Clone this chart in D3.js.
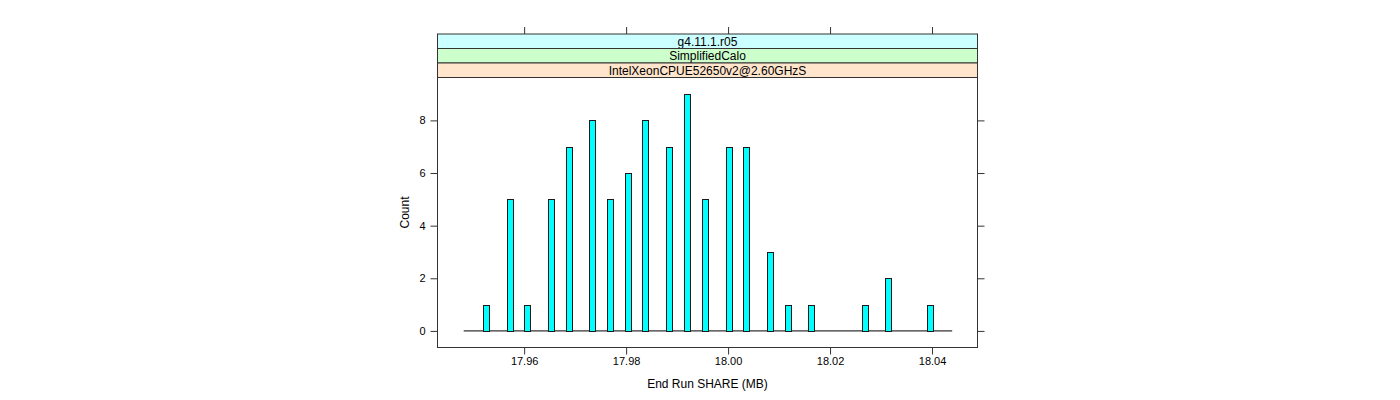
<!DOCTYPE html>
<html>
<head>
<meta charset="utf-8">
<script src="https://cdn.jsdelivr.net/npm/d3@7"></script>
<style>
  html, body { margin: 0; padding: 0; background: #fff; }
  svg { display: block; }
  text { font-family: "Liberation Sans", Arial, Helvetica, sans-serif; fill: #000; }
</style>
</head>
<body>
<svg id="chart" width="1400" height="400"></svg>
<script>
// ---- data ----
const shareValues = [17.9525, 17.9572, 17.9605, 17.9652, 17.9687, 17.9734, 17.9769, 17.9803, 17.9838, 17.9884,
                     17.9919, 17.9954, 18.0001, 18.0036, 18.0082, 18.0117, 18.0163, 18.0268, 18.0314, 18.0396];
const counts      = [1, 5, 1, 5, 7, 8, 5, 6, 8, 7,
                     9, 5, 7, 7, 3, 1, 1, 1, 2, 1];
const xTicks = [17.96, 17.98, 18.00, 18.02, 18.04];
const yTicks = [0, 2, 4, 6, 8];
const stripLabels = ["g4.11.1.r05", "SimplifiedCalo", "IntelXeonCPUE52650v2@2.60GHzS"];
const stripColors = ["#ccffff", "#ccffcc", "#ffe5cc"];
const xLabel = "End Run SHARE (MB)";
const yLabel = "Count";

// ---- layout ----
const panel = { left: 437.5, right: 977.5, top: 77.5, bottom: 347.5 };
const stripH = 14.5;
const svg = d3.select("#chart");

const ext = d3.extent(shareValues);
const span = ext[1] - ext[0];
const x = d3.scaleLinear()
  .domain([ext[0] - span * 0.109, ext[1] + span * 0.107])
  .range([panel.left, panel.right]);
const yMax = d3.max(counts);
const y = d3.scaleLinear()
  .domain([-yMax * 0.07, yMax * 1.07])
  .range([panel.bottom, panel.top]);

const axisColor = "#333";

// strips (top to bottom)
const stripTop = panel.top - stripH * stripLabels.length;
stripLabels.forEach((lab, i) => {
  const yy = stripTop + i * stripH;
  svg.append("rect")
    .attr("x", panel.left).attr("y", yy)
    .attr("width", panel.right - panel.left).attr("height", stripH)
    .attr("fill", stripColors[i]).attr("stroke", axisColor).attr("stroke-width", 1);
  svg.append("text")
    .attr("x", (panel.left + panel.right) / 2).attr("y", yy + stripH / 2 + 4.3)
    .attr("text-anchor", "middle").attr("font-size", "12px").text(lab);
});

// panel border
svg.append("rect")
  .attr("x", panel.left).attr("y", panel.top)
  .attr("width", panel.right - panel.left).attr("height", panel.bottom - panel.top)
  .attr("fill", "none").attr("stroke", axisColor).attr("stroke-width", 1);

// axes
const tickLen = 7;
const bottomAxis = d3.axisBottom(x).tickValues(xTicks).tickFormat(d3.format(".2f"))
  .tickSizeInner(tickLen).tickSizeOuter(0).tickPadding(3);
const gb = svg.append("g").attr("transform", `translate(0,${panel.bottom})`).call(bottomAxis);
const topAxis = d3.axisTop(x).tickValues(xTicks).tickFormat("").tickSizeInner(tickLen).tickSizeOuter(0);
const gt = svg.append("g").attr("transform", `translate(0,${stripTop})`).call(topAxis);
const leftAxis = d3.axisLeft(y).tickValues(yTicks).tickFormat(d3.format("d"))
  .tickSizeInner(tickLen).tickSizeOuter(0).tickPadding(5);
const gl = svg.append("g").attr("transform", `translate(${panel.left},0)`).call(leftAxis);
const rightAxis = d3.axisRight(y).tickValues(yTicks).tickFormat("").tickSizeInner(tickLen).tickSizeOuter(0);
const gr = svg.append("g").attr("transform", `translate(${panel.right},0)`).call(rightAxis);
[gb, gt, gl, gr].forEach(g => {
  g.select(".domain").remove();
  g.selectAll(".tick line").attr("stroke", axisColor);
  g.selectAll(".tick text").attr("font-size", "11px").attr("font-family", "Liberation Sans, Arial, sans-serif").attr("fill", "#000");
});

// baseline
svg.append("line")
  .attr("x1", x(ext[0] - span * 0.05)).attr("x2", x(ext[1] + span * 0.05))
  .attr("y1", y(0)).attr("y2", y(0))
  .attr("stroke", "#000").attr("stroke-width", 1);

// bars
const barW = 6;
svg.append("g").selectAll("rect")
  .data(shareValues.map((v, i) => ({ v, c: counts[i] })))
  .join("rect")
  .attr("x", d => Math.round(x(d.v) - barW / 2) + 0.5)
  .attr("y", d => Math.round(y(d.c)) + 0.5)
  .attr("width", barW)
  .attr("height", d => Math.round(y(0)) - Math.round(y(d.c)))
  .attr("fill", "#00ffff")
  .attr("stroke", "#1a1a1a")
  .attr("stroke-width", 1);

// labels
svg.append("text")
  .attr("x", (panel.left + panel.right) / 2).attr("y", 388)
  .attr("text-anchor", "middle").attr("font-size", "12px").text(xLabel);
svg.append("text")
  .attr("transform", `translate(409,${(panel.top + panel.bottom) / 2}) rotate(-90)`)
  .attr("text-anchor", "middle").attr("font-size", "12px").text(yLabel);
</script>
</body>
</html>
